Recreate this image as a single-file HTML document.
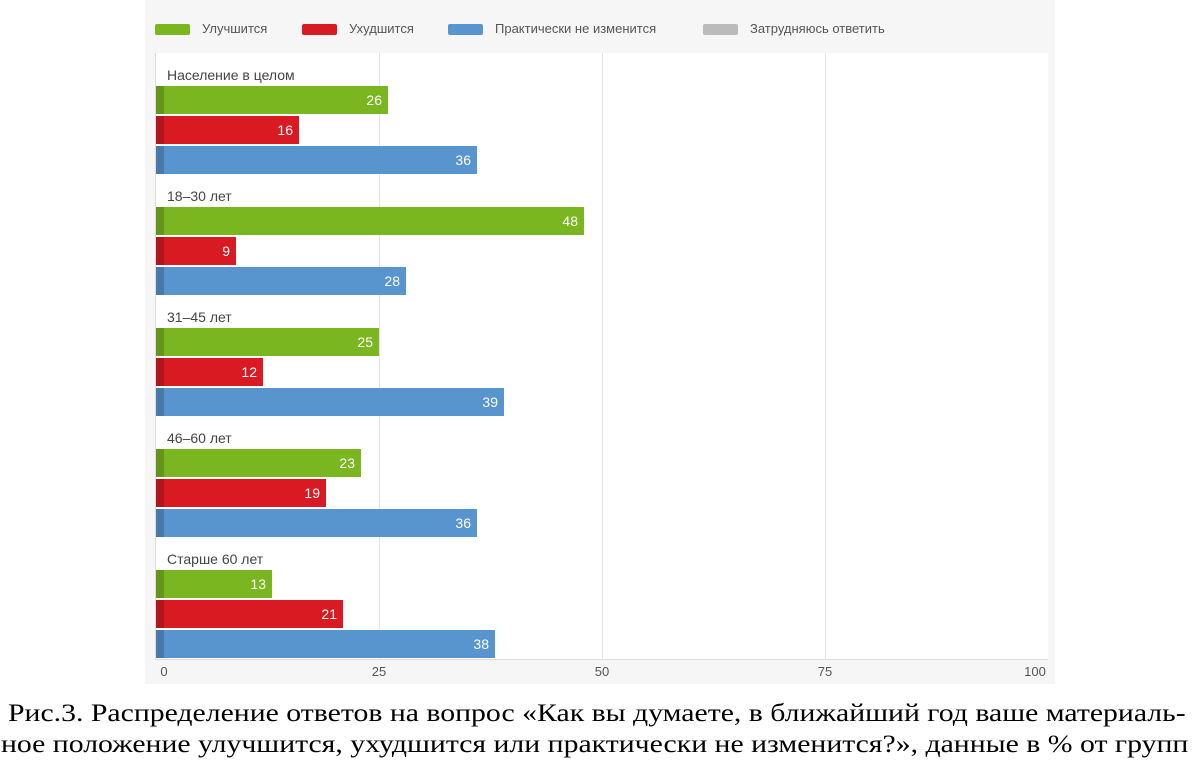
<!DOCTYPE html>
<html><head><meta charset="utf-8"><style>
body{margin:0;width:1194px;height:767px;background:#fff;position:relative;overflow:hidden;font-family:"Liberation Sans",Arial,sans-serif}
.bg{position:absolute;left:145px;top:0;width:910px;height:684px;background:#f6f6f6}
.plot{position:absolute;left:155px;top:53px;width:893px;height:607px;background:#fff;border:1px solid #ddd;border-top:none;border-right:none;box-sizing:border-box}
.grid{position:absolute;top:53px;height:607px;width:1px;background:#e4e4e4}
.bar{position:absolute;height:28px;left:156px}
.bar span{position:absolute;right:6px;top:6px;color:#fff;font-size:14px}
.bar i{position:absolute;left:0;top:0;width:8px;height:100%;background:rgba(0,0,0,0.18)}
.g{background:#7ab61f}.r{background:#d91a22}.b{background:#5895cf}
.lab{position:absolute;left:167px;font-size:14px;color:#444}
.tick{position:absolute;top:664px;font-size:13px;color:#555;transform:translateX(-50%)}
.leg{position:absolute;top:21px;font-size:13px;color:#555}
.sw{position:absolute;top:24px;width:35px;height:11px;border-radius:2px}
.cap{position:absolute;font-family:"Liberation Serif","Times New Roman",serif;font-size:25px;color:#000;white-space:nowrap;transform-origin:0 0;transform:scaleX(1.19)}
</style></head><body>
<div class="bg"></div>
<div class="sw g" style="left:155px"></div><div class="leg" style="left:202px">Улучшится</div>
<div class="sw r" style="left:302px"></div><div class="leg" style="left:349px">Ухудшится</div>
<div class="sw b" style="left:448px"></div><div class="leg" style="left:495px">Практически не изменится</div>
<div class="sw" style="left:703px;background:#bbb"></div><div class="leg" style="left:750px">Затрудняюсь ответить</div>
<div class="plot"></div>
<div class="grid" style="left:379px"></div><div class="grid" style="left:602px"></div><div class="grid" style="left:825px"></div>

<div class="lab" style="top:67px">Население в целом</div>
<div class="bar g" style="top:86px;width:232px"><i></i><span>26</span></div>
<div class="bar r" style="top:116px;width:143px"><i></i><span>16</span></div>
<div class="bar b" style="top:146px;width:321px"><i></i><span>36</span></div>

<div class="lab" style="top:188px">18–30 лет</div>
<div class="bar g" style="top:207px;width:428px"><i></i><span>48</span></div>
<div class="bar r" style="top:237px;width:80px"><i></i><span>9</span></div>
<div class="bar b" style="top:267px;width:250px"><i></i><span>28</span></div>

<div class="lab" style="top:309px">31–45 лет</div>
<div class="bar g" style="top:328px;width:223px"><i></i><span>25</span></div>
<div class="bar r" style="top:358px;width:107px"><i></i><span>12</span></div>
<div class="bar b" style="top:388px;width:348px"><i></i><span>39</span></div>

<div class="lab" style="top:430px">46–60 лет</div>
<div class="bar g" style="top:449px;width:205px"><i></i><span>23</span></div>
<div class="bar r" style="top:479px;width:170px"><i></i><span>19</span></div>
<div class="bar b" style="top:509px;width:321px"><i></i><span>36</span></div>

<div class="lab" style="top:551px">Старше 60 лет</div>
<div class="bar g" style="top:570px;width:116px"><i></i><span>13</span></div>
<div class="bar r" style="top:600px;width:187px"><i></i><span>21</span></div>
<div class="bar b" style="top:630px;width:339px"><i></i><span>38</span></div>

<div class="tick" style="left:164px">0</div>
<div class="tick" style="left:379px">25</div>
<div class="tick" style="left:602px">50</div>
<div class="tick" style="left:825px">75</div>
<div class="tick" style="left:1035px">100</div>

<div class="cap" style="top:700px;left:8px">Рис.3. Распределение ответов на вопрос «Как вы думаете, в ближайший год ваше материаль-</div>
<div class="cap" style="top:731px;left:1px">ное положение улучшится, ухудшится или практически не изменится?», данные в % от групп</div>
</body></html>
